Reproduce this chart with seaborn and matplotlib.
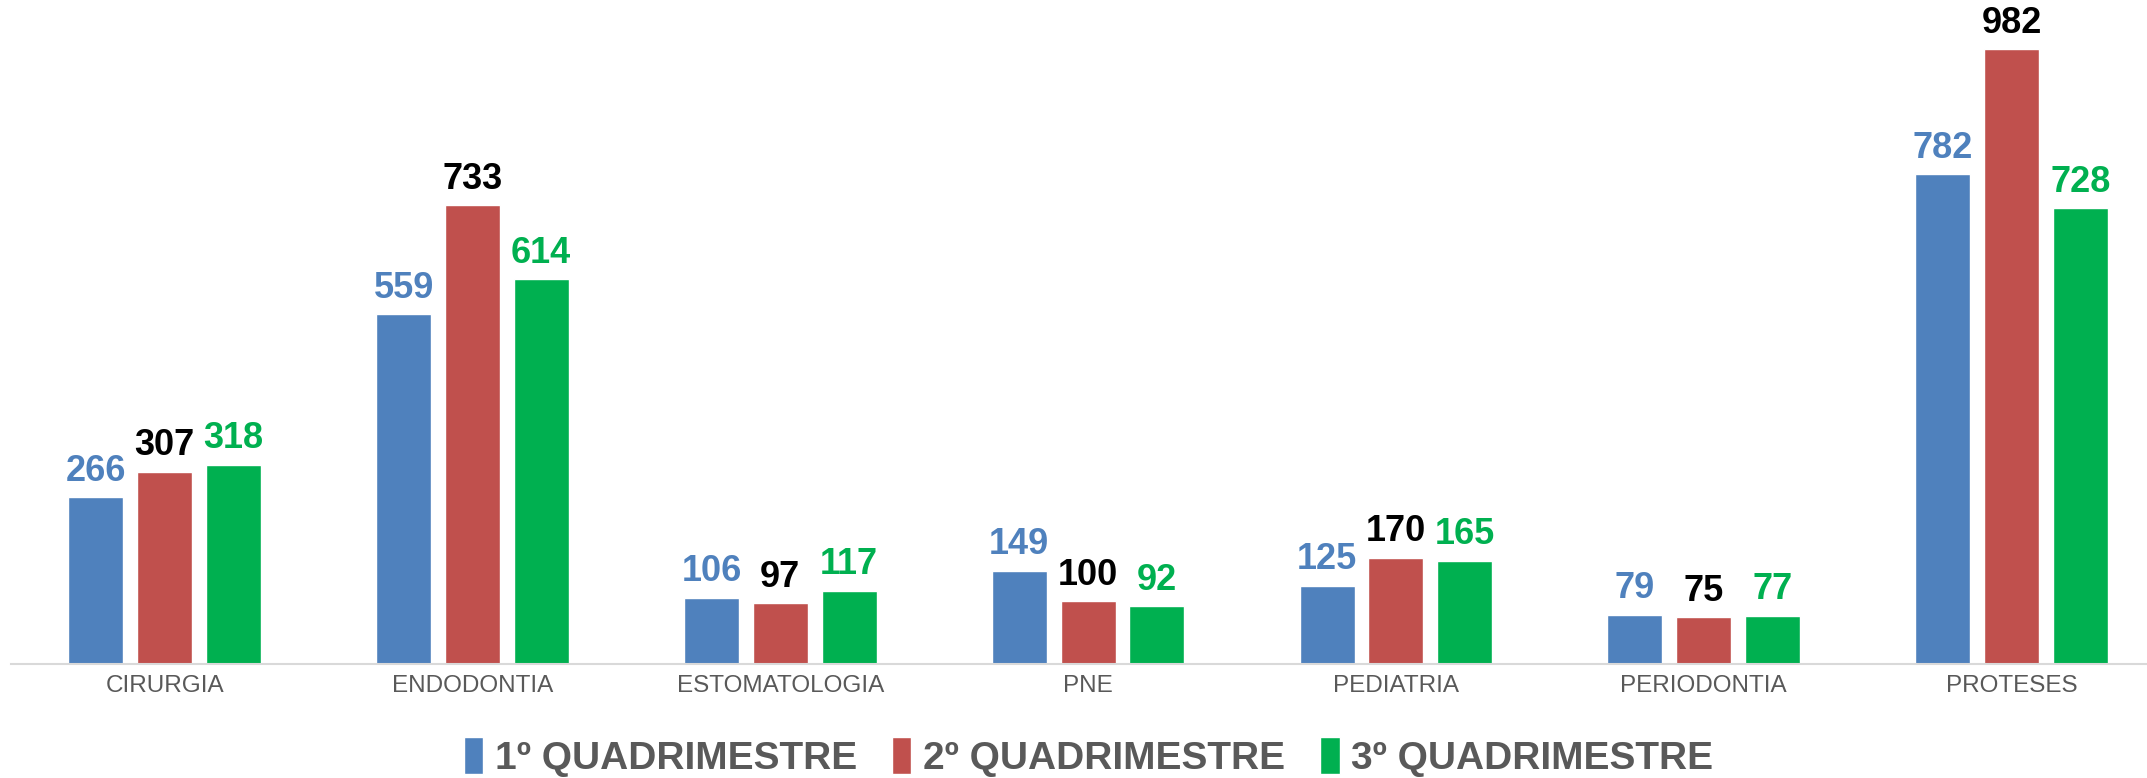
import pandas as pd
import seaborn as sns
import matplotlib.pyplot as plt

categories = ['CIRURGIA', 'ENDODONTIA', 'ESTOMATOLOGIA', 'PNE', 'PEDIATRIA', 'PERIODONTIA', 'PROTESES']
series = ['1º QUADRIMESTRE', '2º QUADRIMESTRE', '3º QUADRIMESTRE']
q1 = [266, 559, 106, 149, 125, 79, 782]
q2 = [307, 733, 97, 100, 170, 75, 982]
q3 = [318, 614, 117, 92, 165, 77, 728]

bar_colors = ['#4F81BD', '#C0504D', '#00B050']
label_colors = ['#4F81BD', '#000000', '#00B050']

rows = []
for name, vals in zip(series, [q1, q2, q3]):
    for cat, v in zip(categories, vals):
        rows.append({'categoria': cat, 'serie': name, 'valor': v})
df = pd.DataFrame(rows)

sns.set_style('white')
plt.rcParams['font.family'] = ['Liberation Sans', 'DejaVu Sans']

fig = plt.figure(figsize=(21.47, 7.78), dpi=100)
ax = fig.add_axes([0.005, 0.1465, 0.995, 0.8535])

sns.barplot(data=df, x='categoria', y='valor', hue='serie', order=categories,
            hue_order=series, palette=bar_colors, width=0.67, gap=0.2,
            saturation=1, ax=ax, legend=True)

for cont, c in zip(ax.containers, label_colors):
    ax.bar_label(cont, color=c, fontsize=26, fontweight='bold', padding=6)

ax.set_ylim(0, 1060)
ax.set_xlim(-0.5, 6.44)
ax.set_xlabel('')
ax.set_ylabel('')
ax.set_yticks([])
for s in ['top', 'right', 'left']:
    ax.spines[s].set_visible(False)
ax.spines['bottom'].set_color('#D9D9D9')
ax.spines['bottom'].set_linewidth(1.5)
ax.tick_params(axis='x', length=0, labelsize=17.5, labelcolor='#595959', pad=8)

handles, labels = ax.get_legend_handles_labels()
ax.get_legend().remove()
fig.legend(handles, labels, loc='center', bbox_to_anchor=(0.507, 0.027),
           ncol=3, frameon=False, handlelength=0.5, handleheight=1.1,
           handletextpad=0.3, columnspacing=0.9,
           prop={'size': 28, 'weight': 'bold'}, labelcolor='#595959')

fig.savefig('out.png', dpi=100)
